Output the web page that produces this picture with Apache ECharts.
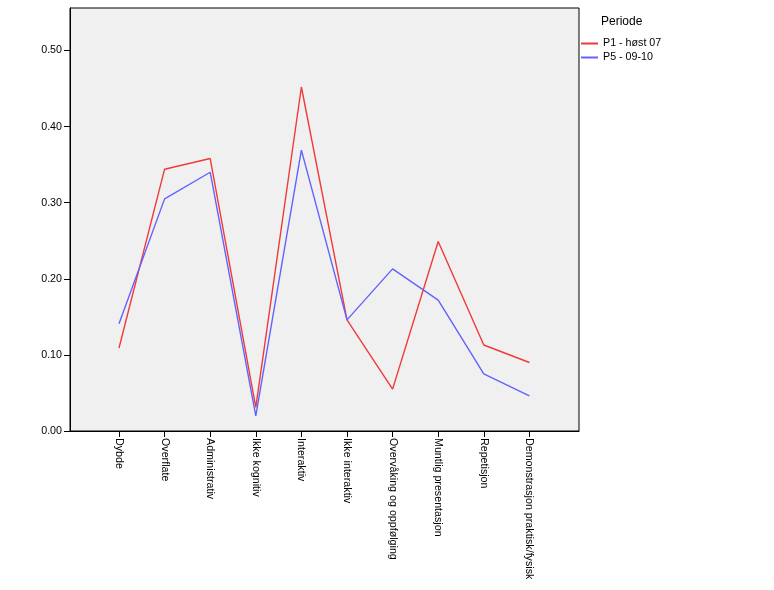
<!DOCTYPE html>
<html>
<head>
<meta charset="utf-8">
<script src="https://cdn.jsdelivr.net/npm/echarts@6/dist/echarts.min.js"></script>
<style>html,body{margin:0;padding:0;background:#fff}#c{width:774px;height:590px}</style>
</head>
<body>
<div id="c"></div>
<script>
const categories = ['Dybde','Overflate','Administrativ','Ikke kognitiv','Interaktiv','Ikke interaktiv','Overvåking og oppfølging','Muntlig presentasjon','Repetisjon','Demonstrasjon praktisk/fysisk'];
const seriesNames = ['P1 - høst 07','P5 - 09-10'];
const p1Values = [0.109, 0.344, 0.358, 0.031, 0.452, 0.146, 0.055, 0.249, 0.113, 0.090];
const p5Values = [0.141, 0.305, 0.340, 0.020, 0.369, 0.146, 0.213, 0.172, 0.075, 0.046];
const yTicks = [0, 0.1, 0.2, 0.3, 0.4, 0.5];
const legendTitle = 'Periode';

const font = 'Liberation Sans, Arial, sans-serif';
const catIdx = categories.map((c, i) => i);
const chart = echarts.init(document.getElementById('c'));
chart.setOption({
  animation: false,
  backgroundColor: '#fff',
  title: {
    text: legendTitle, left: 601, top: 16, padding: 0,
    textStyle: {fontFamily: font, fontSize: 12, fontWeight: 'normal', color: '#000'}
  },
  legend: {
    orient: 'vertical', left: 581, top: 38, padding: 0, itemWidth: 17, itemHeight: 2, itemGap: 3,
    icon: 'rect',
    data: seriesNames,
    textStyle: {fontFamily: font, fontSize: 10.7, color: '#000'}
  },
  grid: {
    left: 70, right: 195, top: 8, bottom: 159, show: true,
    backgroundColor: '#f0f0f0', borderColor: '#000', borderWidth: 1
  },
  xAxis: {
    type: 'value', min: -1.0746, max: 10.088,
    axisLine: {show: true, onZero: false, lineStyle: {color: '#000', width: 1}},
    axisTick: {show: true, customValues: catIdx, length: 6, lineStyle: {color: '#000'}},
    axisLabel: {
      customValues: catIdx, rotate: -90, margin: 7,
      fontFamily: font, fontSize: 10.7, color: '#000',
      formatter: v => categories[Math.round(v)] || ''
    },
    splitLine: {show: false}
  },
  yAxis: {
    type: 'value', min: 0, max: 0.5558,
    axisLine: {show: true, onZero: false, lineStyle: {color: '#000', width: 1}},
    axisTick: {show: true, customValues: yTicks, length: 6, lineStyle: {color: '#000'}},
    axisLabel: {
      customValues: yTicks, margin: 8,
      fontFamily: font, fontSize: 10.7, color: '#000',
      formatter: v => v.toFixed(2)
    },
    splitLine: {show: false}
  },
  series: [
    {name: seriesNames[0], type: 'line', data: p1Values.map((v, i) => [i, v]), symbol: 'none',
     lineStyle: {color: '#f03a3a', width: 1.4}, itemStyle: {color: '#f03a3a'}},
    {name: seriesNames[1], type: 'line', data: p5Values.map((v, i) => [i, v]), symbol: 'none',
     lineStyle: {color: '#6262ff', width: 1.4}, itemStyle: {color: '#6262ff'}}
  ]
});
</script>
</body>
</html>
